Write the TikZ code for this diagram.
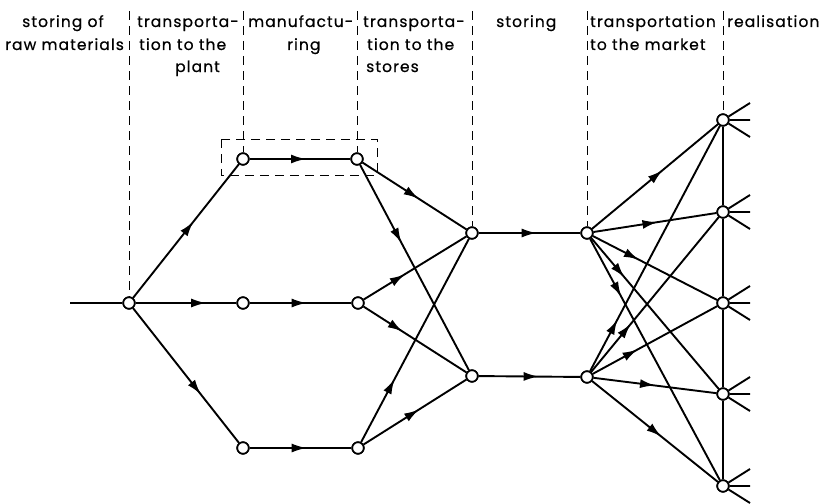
\documentclass[tikz,border=0pt]{standalone}
\usepackage{fontspec}
\setmainfont{Poppins}[LetterSpace=7,FakeBold=0.6]
\usetikzlibrary{arrows.meta,decorations.markings}
\begin{document}
\begin{tikzpicture}[x=1pt,y=-1pt,
  junction/.style={circle,draw,line width=1.7pt,fill=white,minimum size=11.5pt,inner sep=0pt},
  link/.style={line width=1.9pt},
  flow/.style={link,decoration={markings,mark=at position #1 with {\arrow{Latex[length=15pt,width=9pt]}}},postaction={decorate}},
  flow/.default=0.5,
  phase/.style={line width=0.9pt,dash pattern=on 9pt off 6pt},
  hdr/.style={anchor=base west,inner sep=0pt,font=\fontsize{15.5}{18}\selectfont}
]
\fill[white] (0,0) rectangle (829,503);
\useasboundingbox (0,0) rectangle (829,503);

% column headings
\node[hdr] (h1a) at (22,27) {storing of};
\node[hdr] (h1b) at (5,50) {raw materials};
\node[hdr] (h2a) at (137,27) {transporta-};
\node[hdr] (h2b) at (139,50) {tion to the};
\node[hdr] (h2c) at (175,72) {plant};
\node[hdr] (h3a) at (248,27) {manufactu-};
\node[hdr] (h3b) at (287,50) {ring};
\node[hdr] (h4a) at (363,27) {transporta-};
\node[hdr] (h4b) at (367,50) {tion to the};
\node[hdr] (h4c) at (366,72) {stores};
\node[hdr] (h5a) at (496,27) {storing};
\node[hdr] (h6a) at (590,27) {transportation};
\node[hdr] (h6b) at (590,50) {to the market};
\node[hdr] (h7a) at (727,27) {realisation};

% junctions
\node[junction] (S)  at (129,303) {};
\node[junction] (A1) at (243,159) {};
\node[junction] (A2) at (357,159) {};
\node[junction] (B1) at (243,303) {};
\node[junction] (B2) at (358,303) {};
\node[junction] (C1) at (243,448) {};
\node[junction] (C2) at (358,448) {};
\node[junction] (D1) at (472,233) {};
\node[junction] (D2) at (472,376) {};
\node[junction] (E1) at (587,233) {};
\node[junction] (E2) at (587,377) {};
\node[junction] (R1) at (723,120) {};
\node[junction] (R2) at (723,212) {};
\node[junction] (R3) at (723,303) {};
\node[junction] (R4) at (723,394) {};
\node[junction] (R5) at (723,486) {};

% phase boundaries
\foreach \x/\n in {129/S,243/A1,357/A2,472/D1,587/E1,723/R1}{
  \coordinate (top\n) at (\x,11);
  \draw[phase] (top\n) -- (\n);
}
\coordinate (boxA) at (221,139);
\coordinate (boxB) at (377,175);
\draw[phase] (boxA) rectangle (boxB);

% flows
\coordinate (in) at (70,303);
\draw[link] (in) -- (S);
\draw[flow=0.57] (S) -- (A1);
\draw[flow=0.70] (S) -- (B1);
\draw[flow=0.64] (S) -- (C1);
\draw[flow=0.56] (A1) -- (A2);
\draw[flow=0.56] (B1) -- (B2);
\draw[flow=0.56] (C1) -- (C2);
\draw[flow=0.54] (A2) -- (D1);
\draw[flow=0.38] (A2) -- (D2);
\draw[flow=0.40] (B2) -- (D1);
\draw[flow=0.38] (B2) -- (D2);
\draw[flow=0.31] (C2) -- (D1);
\draw[flow=0.54] (C2) -- (D2);
\draw[flow=0.57] (D1) -- (E1);
\draw[flow=0.59] (D2) -- (E2);
\draw[flow=0.56] (E1) -- (R1);
\draw[flow=0.52] (E1) -- (R2);
\draw[flow=0.37] (E1) -- (R3);
\draw[flow=0.26] (E1) -- (R4);
\draw[flow=0.24] (E1) -- (R5);
\draw[flow=0.21] (E2) -- (R1);
\draw[flow=0.31] (E2) -- (R2);
\draw[flow=0.36] (E2) -- (R3);
\draw[flow=0.50] (E2) -- (R4);
\draw[flow=0.55] (E2) -- (R5);
\draw[line width=1.5pt] (R1) -- (R2) -- (R3) -- (R4) -- (R5);

% outlets of the market points
\foreach \n in {R1,R2,R3,R4,R5}{
  \path (\n) ++(27,-17) coordinate (\n u) (\n) ++(27,0) coordinate (\n m) (\n) ++(27,17) coordinate (\n d);
  \draw[link] (\n) -- (\n u) (\n) -- (\n m) (\n) -- (\n d);
}

% redraw junctions on top of the lines
\foreach \n in {S,A1,A2,B1,B2,C1,C2,D1,D2,E1,E2,R1,R2,R3,R4,R5}
  \node[junction] at (\n) {};
\end{tikzpicture}
\end{document}
